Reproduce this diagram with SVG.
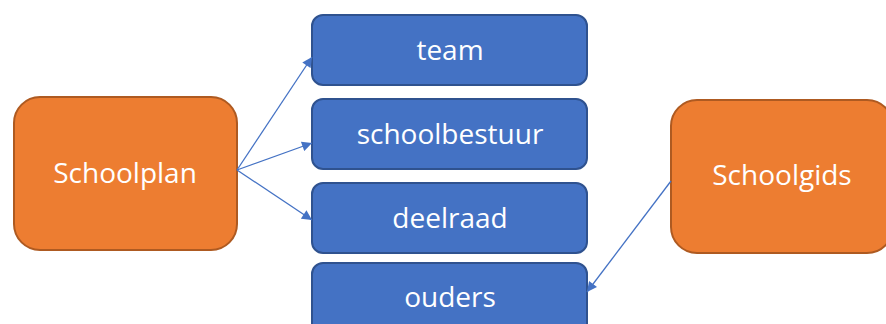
<svg xmlns="http://www.w3.org/2000/svg" width="886" height="324" viewBox="0 0 886 324">
  <style>
    .doc rect { fill: #ED7D31; stroke: #AE5A21; stroke-width: 2; }
    .target rect { fill: #4472C4; stroke: #2F528F; stroke-width: 2; }
    text { font-family: "Open Sans", "Noto Sans", sans-serif; fill: #FFFFFF; text-anchor: middle; font-size: 28px; }
    #connectors line { stroke: #4472C4; stroke-width: 1.3; fill: none; marker-end: url(#arrow); }
  </style>
  <defs>
    <marker id="arrow" viewBox="0 0 10 10" refX="10" refY="5" markerWidth="11" markerHeight="10" markerUnits="userSpaceOnUse" orient="auto">
      <path d="M0,0 L10,5 L0,10 Z" fill="#4472C4"/>
    </marker>
  </defs>
  <rect width="886" height="324" fill="#FFFFFF"/>

  <g id="schoolplan" class="doc">
    <rect x="14" y="97" width="223" height="153" rx="26"/>
    <text x="125" y="183">Schoolplan</text>
  </g>

  <g id="team" class="target">
    <rect x="312" y="15" width="275" height="70" rx="11"/>
    <text x="450" y="60">team</text>
  </g>
  <g id="schoolbestuur" class="target">
    <rect x="312" y="99" width="275" height="70" rx="11"/>
    <text x="450" y="144">schoolbestuur</text>
  </g>
  <g id="deelraad" class="target">
    <rect x="312" y="183" width="275" height="70" rx="11"/>
    <text x="450" y="228">deelraad</text>
  </g>
  <g id="ouders" class="target">
    <rect x="312" y="263" width="275" height="80" rx="11"/>
    <text x="450" y="307">ouders</text>
  </g>

  <g id="schoolgids" class="doc">
    <rect x="671" y="100" width="222" height="153" rx="26"/>
    <text x="782" y="185">Schoolgids</text>
  </g>

  <g id="connectors">
    <line x1="237" y1="170" x2="312" y2="57"/>
    <line x1="237" y1="170" x2="312" y2="143"/>
    <line x1="237" y1="170" x2="312" y2="220"/>
    <line x1="671" y1="181" x2="587" y2="292"/>
  </g>
</svg>
